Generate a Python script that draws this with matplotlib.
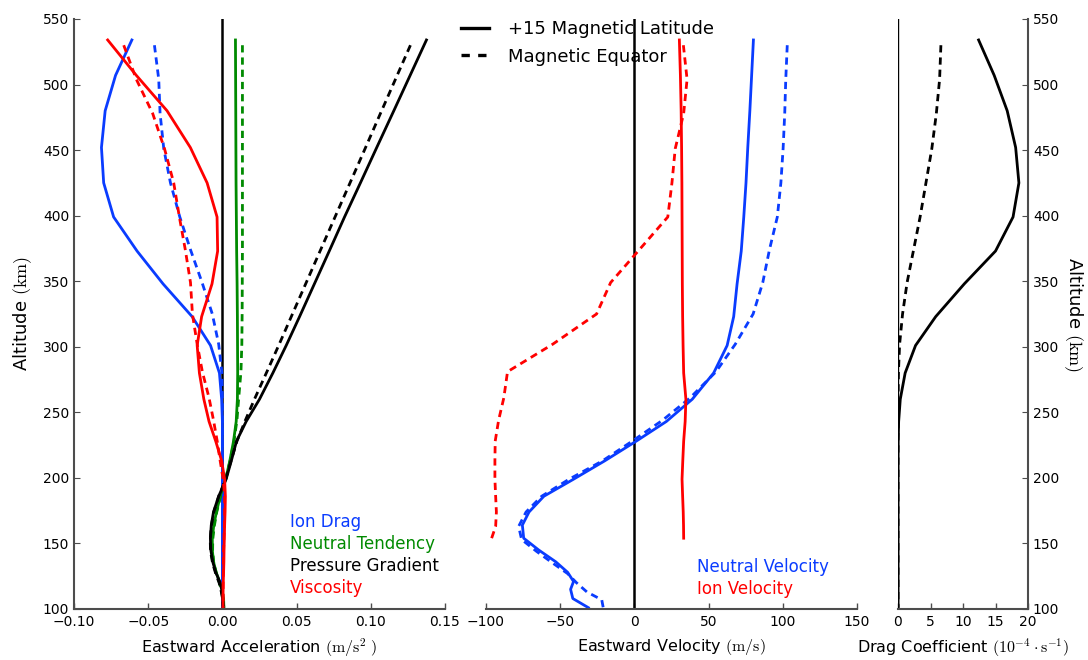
import numpy as np
import matplotlib
matplotlib.use('Agg')
import matplotlib.pyplot as plt
from matplotlib.lines import Line2D

plt.rcParams['mathtext.fontset'] = 'cm'
plt.rcParams['font.family'] = 'DejaVu Sans'

# altitude grids (km)
alt15 = [534, 507, 480, 452, 425, 399, 373, 348, 323, 301, 280, 260, 243, 228,
         213, 199, 186, 174, 164, 154, 145, 136, 128, 121, 115, 108, 101]
alt_eq = [530, 504, 478, 451, 425, 399, 374, 349, 325, 302, 281, 261, 244, 228,
          213, 199, 186, 174, 163, 153, 144, 135, 127, 120, 113, 107, 101]

# eastward acceleration (m/s^2), +15 magnetic latitude
ion_drag_15 = [-0.061, -0.072, -0.079, -0.0815, -0.080, -0.0733, -0.0575, -0.040,
               -0.0204, -0.008, -0.002, -0.0005, 0, 0, 0, 0, 0, 0, 0, 0, 0, 0, 0,
               0, 0, 0, 0]
tendency_15 = [0.0088, 0.0089, 0.009, 0.0091, 0.0092, 0.0094, 0.0096, 0.0099,
               0.0101, 0.0102, 0.0103, 0.0101, 0.0093, 0.0075, 0.005, 0.0022,
               -0.0015, -0.004, -0.0058, -0.0068, -0.0068, -0.006, -0.0042,
               -0.002, -0.0003, 0.0008, 0.001]
pressure_15 = [0.1375, 0.1265, 0.1155, 0.104, 0.093, 0.0823, 0.072, 0.062, 0.052,
               0.043, 0.034, 0.025, 0.016, 0.0095, 0.006, 0.0025, -0.0025, -0.006,
               -0.0075, -0.0081, -0.0078, -0.0065, -0.0045, -0.0018, -0.0005,
               0.0002, 0.0005]
viscosity_15 = [-0.0773, -0.058, -0.0373, -0.0216, -0.0103, -0.0036, -0.0032,
                -0.007, -0.014, -0.017, -0.0155, -0.0125, -0.009, -0.0045,
                -0.0005, 0.0015, 0.002, 0.0018, 0.0015, 0.0013, 0.0011, 0.001,
                0.0008, 0.0006, 0.0005, 0.0004, 0.0004]

# eastward acceleration (m/s^2), magnetic equator
ion_drag_eq = [-0.0458, -0.0429, -0.042, -0.0395, -0.035, -0.0287, -0.0215,
               -0.0137, -0.0068, -0.0025, -0.0004, 0, 0, 0, 0, 0, 0, 0, 0, 0, 0,
               0, 0, 0, 0, 0, 0]
tendency_eq = [0.0135, 0.0135, 0.0135, 0.0135, 0.0135, 0.0135, 0.0135, 0.0134,
               0.0133, 0.0131, 0.0125, 0.011, 0.0098, 0.0078, 0.0052, 0.0022,
               -0.0012, -0.0038, -0.0055, -0.0065, -0.0066, -0.0058, -0.004,
               -0.002, -0.0005, 0.0005, 0.001]
pressure_eq = [0.1267, 0.1166, 0.1065, 0.0961, 0.086, 0.0759, 0.0662, 0.0565,
               0.0472, 0.0383, 0.030, 0.022, 0.0155, 0.0098, 0.0058, 0.0022,
               -0.0025, -0.0058, -0.0075, -0.0082, -0.008, -0.0066, -0.0045,
               -0.0022, -0.0007, 0.0002, 0.0005]
viscosity_eq = [-0.0665, -0.058, -0.047, -0.039, -0.0328, -0.029, -0.025, -0.0215,
                -0.0202, -0.017, -0.0135, -0.009, -0.006, -0.0035, -0.0015,
                0.0005, 0.0015, 0.0015, 0.0013, 0.001, 0.0008, 0.0007, 0.0006,
                0.0005, 0.0005, 0.0005, 0.0005]

# eastward velocity (m/s)
neutral_vel_15 = [80.2, 79, 77.8, 76.4, 75.2, 73.7, 72, 69.2, 66.9, 62.5, 53.4, 39,
                  21.5, 1.2, -20, -41, -61, -71, -75.5, -74.6, -64.5, -53, -45,
                  -41, -43, -41.5, -31]
neutral_vel_eq = [103, 102, 101.3, 100.2, 98.7, 96.3, 91, 86.5, 80, 68, 55, 37.5,
                  19, -1.5, -21.5, -44, -62.5, -73, -78, -76, -66, -55, -45, -39,
                  -32, -22, -21]
ion_vel_15 = [30.3, 31, 31.5, 31.8, 32, 32.1, 32.2, 32.3, 32.5, 32.8, 33.2, 34.7,
              34.2, 33.2, 32.6, 32.1, 32.5, 32.9, 33.1, 33.2]
ion_vel_eq = [33, 35.5, 33.2, 27.5, 25.3, 22.5, 3.3, -16, -25.5, -55, -85.5, -88,
              -91.5, -93.8, -94, -94, -93.5, -93, -93.5, -96.5]

# drag coefficient (1e-4 /s)
drag_15 = [12.4, 14.8, 16.8, 18.1, 18.6, 17.7, 15.0, 10.2, 5.8, 2.7, 1.1, 0.35,
           0.1, 0.02, 0, 0, 0, 0, 0, 0, 0, 0, 0, 0, 0, 0, 0]
drag_eq = [6.6, 6.4, 5.9, 5.2, 4.3, 3.4, 2.4, 1.4, 0.7, 0.25, 0.07, 0.01, 0, 0, 0,
           0, 0, 0, 0, 0, 0, 0, 0, 0, 0, 0, 0]

blue = '#0a3cff'
green = '#008a00'
red = '#ff0000'
lw = 2.0
dash = (0, (2.6, 1.8))
spine_c = '0.3'


def style(ax, left=False, right=False):
    for s in ['top', 'right', 'left', 'bottom']:
        ax.spines[s].set_visible(False)
    ax.spines['bottom'].set_visible(True)
    ax.spines['bottom'].set_color(spine_c)
    ax.spines['bottom'].set_linewidth(1.5)
    ax.tick_params(axis='x', direction='in', length=4, width=1, labelsize=10,
                   colors='k', pad=4)
    ax.tick_params(axis='x', color=spine_c)
    ax.set_ylim(100, 550)
    if left or right:
        side = 'left' if left else 'right'
        ax.spines[side].set_visible(True)
        ax.spines[side].set_color(spine_c)
        ax.spines[side].set_linewidth(1.5)
        if right:
            ax.yaxis.tick_right()
            ax.yaxis.set_label_position('right')
        ax.set_yticks(range(100, 551, 50))
        ax.tick_params(axis='y', direction='in', length=4, labelsize=10,
                       color=spine_c)
    else:
        ax.set_yticks([])


fig = plt.figure(figsize=(10.88, 6.6), dpi=100)
ax1 = fig.add_axes([74 / 1088, 51 / 660, 371 / 1088, 590 / 660])
ax2 = fig.add_axes([486 / 1088, 51 / 660, 371 / 1088, 590 / 660])
ax3 = fig.add_axes([898 / 1088, 51 / 660, 130 / 1088, 590 / 660])

# acceleration panel
ax1.axvline(0, color='k', lw=1.8)
ax1.plot(ion_drag_15, alt15, color=blue, lw=lw)
ax1.plot(ion_drag_eq, alt_eq, color=blue, lw=lw, ls=dash)
ax1.plot(tendency_15, alt15, color=green, lw=lw)
ax1.plot(tendency_eq, alt_eq, color=green, lw=lw, ls=dash)
ax1.plot(pressure_15, alt15, color='k', lw=lw)
ax1.plot(pressure_eq, alt_eq, color='k', lw=lw, ls=dash)
ax1.plot(viscosity_15, alt15, color=red, lw=lw)
ax1.plot(viscosity_eq, alt_eq, color=red, lw=lw, ls=dash)
ax1.set_xlim(-0.10, 0.15)
ax1.set_xticks([-0.10, -0.05, 0.0, 0.05, 0.10, 0.15])
ax1.set_xticklabels(['\u22120.10', '\u22120.05', '0.00', '0.05', '0.10', '0.15'])
style(ax1, left=True)
ax1.set_xlabel(r'Eastward Acceleration $(\mathrm{m/s^2}\ )$', fontsize=11.5,
               labelpad=6)
ax1.set_ylabel(r'Altitude $(\mathrm{km})$', fontsize=13, labelpad=6)
for i, (name, c) in enumerate([('Ion Drag', blue), ('Neutral Tendency', green),
                               ('Pressure Gradient', 'k'), ('Viscosity', red)]):
    ax1.text(0.582, 0.147 - i * 0.0373, name, color=c, fontsize=12,
             transform=ax1.transAxes, va='center', ha='left')

# velocity panel
ax2.axvline(0, color='k', lw=1.8)
ax2.plot(neutral_vel_15, alt15, color=blue, lw=lw)
ax2.plot(neutral_vel_eq, alt_eq, color=blue, lw=lw, ls=dash)
ax2.plot(ion_vel_15, alt15[:len(ion_vel_15)], color=red, lw=lw)
ax2.plot(ion_vel_eq, alt_eq[:len(ion_vel_eq)], color=red, lw=lw, ls=dash)
ax2.set_xlim(-100, 150)
ax2.set_xticks([-100, -50, 0, 50, 100, 150])
ax2.set_xticklabels(['\u2212100', '\u221250', '0', '50', '100', '150'])
style(ax2)
ax2.set_xlabel(r'Eastward Velocity $(\mathrm{m/s})$', fontsize=11.5, labelpad=6)
ax2.text(0.569, 0.071, 'Neutral Velocity', color=blue, fontsize=12,
         transform=ax2.transAxes, va='center')
ax2.text(0.569, 0.034, 'Ion Velocity', color=red, fontsize=12,
         transform=ax2.transAxes, va='center')

handles = [Line2D([], [], color='k', lw=2.4),
           Line2D([], [], color='k', lw=2.4, ls=(0, (2.5, 2.5)))]
ax2.legend(handles, ['+15 Magnetic Latitude', 'Magnetic Equator'],
           loc='upper left', bbox_to_anchor=(-0.112, 1.025), frameon=False,
           fontsize=13, handlelength=1.55, handletextpad=1.05, labelspacing=0.5)

# drag coefficient panel
ax3.axvline(0, color='k', lw=1.0)
ax3.plot(drag_15, alt15, color='k', lw=lw)
ax3.plot(drag_eq, alt_eq, color='k', lw=lw, ls=dash)
ax3.set_xlim(0, 20)
ax3.set_xticks([0, 5, 10, 15, 20])
style(ax3, right=True)
ax3.set_xlabel(r'Drag Coefficient $(10^{-4}\cdot\mathrm{s}^{-1})$', fontsize=11.5,
               labelpad=6)
ax3.set_ylabel(r'Altitude $(\mathrm{km})$', fontsize=13, rotation=270,
               labelpad=18)

fig.savefig('out.png', dpi=100)
